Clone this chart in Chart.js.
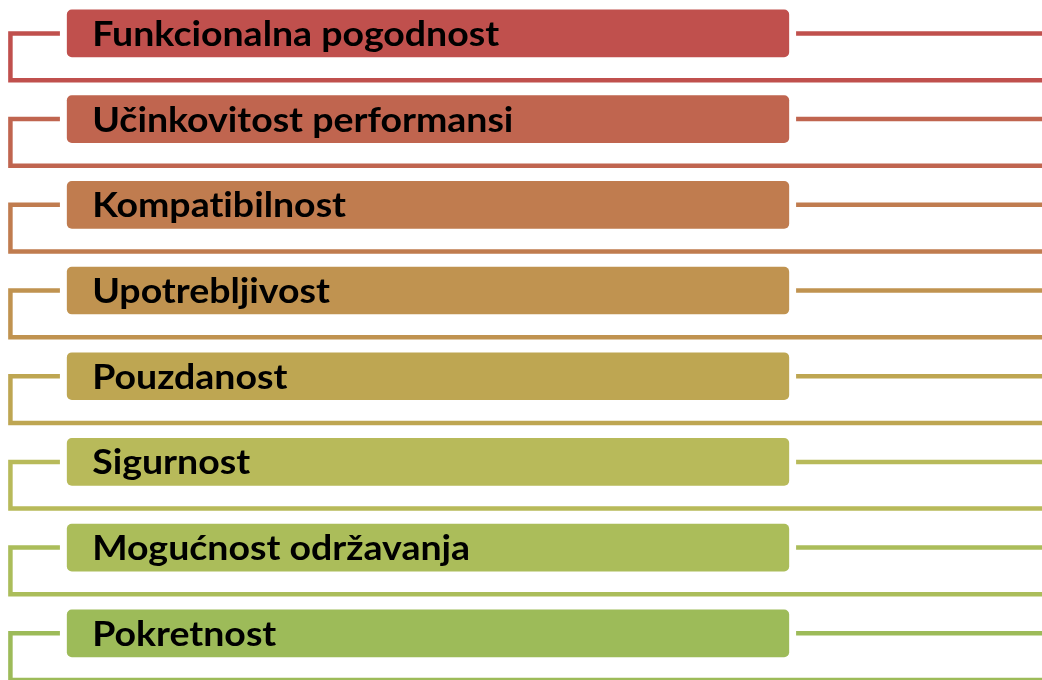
<!DOCTYPE html>
<html>
<head>
<meta charset="utf-8">
<script src="https://cdn.jsdelivr.net/npm/chart.js@4.4.1/dist/chart.umd.min.js"></script>
<style>
  html, body { margin: 0; padding: 0; background: #fff; }
  #wrap { width: 1042px; height: 680px; }
</style>
</head>
<body>
<div id="wrap"><canvas id="qualityChart" width="1042" height="680"></canvas></div>
<script>
// ISO 25010 characteristics, top to bottom
const categories = [
  "Funkcionalna pogodnost",
  "Učinkovitost performansi",
  "Kompatibilnost",
  "Upotrebljivost",
  "Pouzdanost",
  "Sigurnost",
  "Mogućnost održavanja",
  "Pokretnost"
];
// each box spans the same range on the x scale (0..100)
const boxStart = [6.35, 6.35, 6.35, 6.35, 6.35, 6.35, 6.35, 6.35];
const boxEnd = [75.8, 75.8, 75.8, 75.8, 75.8, 75.8, 75.8, 75.8];
const rowColors = ["#C0504D", "#C0654F", "#C07C4F", "#C09350", "#BEA652", "#B8BA5A", "#ABBD5A", "#9DBB59"];

// connector geometry in scale units
const bracketX = 1.0;
const stubEnd = 5.75;
const rightStart = 76.4;
const bracketDrop = 0.545;

const connectors = {
  id: "connectors",
  beforeDatasetsDraw(chart) {
    const { ctx, scales: { x, y } } = chart;
    ctx.save();
    ctx.lineWidth = 4.5;
    ctx.lineJoin = "miter";
    categories.forEach((c, i) => {
      const cy = y.getPixelForValue(i);
      const by = y.getPixelForValue(i + bracketDrop);
      ctx.strokeStyle = rowColors[i];
      ctx.beginPath();
      ctx.moveTo(x.getPixelForValue(stubEnd), cy);
      ctx.lineTo(x.getPixelForValue(bracketX), cy);
      ctx.lineTo(x.getPixelForValue(bracketX), by);
      ctx.lineTo(x.getPixelForValue(100), by);
      ctx.stroke();
      ctx.beginPath();
      ctx.moveTo(x.getPixelForValue(rightStart), cy);
      ctx.lineTo(x.getPixelForValue(100), cy);
      ctx.stroke();
    });
    ctx.restore();
  },
  afterDatasetsDraw(chart) {
    const { ctx } = chart;
    const meta = chart.getDatasetMeta(0);
    ctx.save();
    ctx.fillStyle = "#000";
    ctx.font = "bold 35px Lato";
    ctx.textBaseline = "alphabetic";
    if ("letterSpacing" in ctx) ctx.letterSpacing = "0.01px"; // no "ti" ligature
    meta.data.forEach((bar, i) => {
      const left = Math.min(bar.x, bar.base);
      ctx.save();
      ctx.translate(left + 26, bar.y + 12.5);
      ctx.scale(1.07, 1);   // Calibri-like wide look
      ctx.fillText(categories[i], 0, 0);
      ctx.restore();
    });
    ctx.restore();
  }
};

const ctx = document.getElementById("qualityChart").getContext("2d");
new Chart(ctx, {
  type: "bar",
  data: {
    datasets: [{
      data: categories.map((c, i) => ({ x: [boxStart[i], boxEnd[i]], y: i })),
      backgroundColor: rowColors,
      borderColor: "rgba(255,255,255,0.75)",
      borderWidth: 1,
      borderRadius: 6,
      borderSkipped: false,
      barThickness: 49
    }]
  },
  options: {
    indexAxis: "y",
    responsive: false,
    animation: false,
    layout: { padding: 0 },
    plugins: {
      legend: { display: false },
      tooltip: { enabled: false }
    },
    scales: {
      x: { type: "linear", min: 0, max: 100, display: false, offset: false },
      y: { type: "linear", min: -0.39, max: 7.545, reverse: true, display: false, offset: false }
    }
  },
  plugins: [connectors]
});
</script>
</body>
</html>
